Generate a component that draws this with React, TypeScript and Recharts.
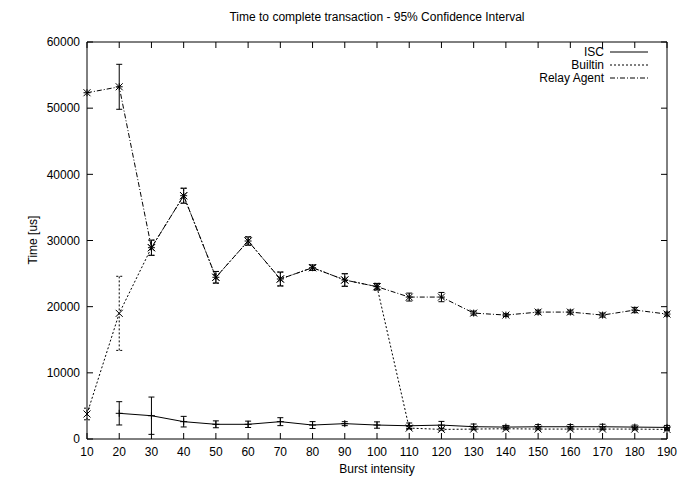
import React from 'react';
import { LineChart, Line, XAxis, YAxis, ErrorBar } from 'recharts';

// burst intensity steps
const bursts = [10, 20, 30, 40, 50, 60, 70, 80, 90, 100, 110, 120, 130, 140, 150, 160, 170, 180, 190];

// mean completion time [us] and 95% CI half-width per series
const iscMean = [null, 3880, 3520, 2620, 2220, 2220, 2620, 2110, 2320, 2110, 2000, 2100, 1860, 1800, 1850, 1850, 1850, 1800, 1750];
const iscErr = [null, 1760, 2820, 800, 520, 480, 600, 520, 300, 480, 420, 560, 400, 250, 330, 330, 380, 300, 300];

const builtinMean = [3780, 18990, 28910, 36770, 24440, 29920, 24180, 25890, 24030, 23020, 1650, 1450, 1500, 1550, 1500, 1500, 1500, 1500, 1450];
const builtinErr = [880, 5600, 1150, 1130, 880, 630, 1050, 400, 950, 500, 200, 200, 150, 150, 150, 150, 150, 150, 150];

const relayMean = [52330, 53230, 28910, 36770, 24440, 29920, 24180, 25890, 24030, 23020, 21450, 21450, 19030, 18730, 19180, 19180, 18730, 19490, 18880];
const relayErr = [0, 3400, 1150, 1130, 880, 630, 1050, 400, 950, 500, 600, 700, 300, 200, 300, 300, 300, 400, 300];

const xTicks = [10, 20, 30, 40, 50, 60, 70, 80, 90, 100, 110, 120, 130, 140, 150, 160, 170, 180, 190];
const yTicks = [0, 10000, 20000, 30000, 40000, 50000, 60000];

const data = bursts.map((b, i) => ({
  burst: b,
  isc: iscMean[i],
  iscErr: iscErr[i] ?? undefined,
  builtin: builtinMean[i],
  builtinErr: builtinErr[i],
  relay: relayMean[i],
  relayErr: relayErr[i],
}));

const FONT = '"Liberation Sans", Arial, Helvetica, sans-serif';

type Shape = 'plus' | 'cross' | 'star';

function markerPath(shape: Shape, cx: number, cy: number, r: number) {
  const plus = `M${cx - r},${cy}H${cx + r}M${cx},${cy - r}V${cy + r}`;
  const cross = `M${cx - r},${cy - r}L${cx + r},${cy + r}M${cx - r},${cy + r}L${cx + r},${cy - r}`;
  if (shape === 'plus') return plus;
  if (shape === 'cross') return cross;
  return plus + cross;
}

const makeDot = (shape: Shape) => (props: any) => {
  const { cx, cy, index, value } = props;
  if (cx == null || cy == null || value == null) return <g key={`d-${shape}-${index}`} />;
  return (
    <path
      key={`d-${shape}-${index}`}
      d={markerPath(shape, cx, cy, 3.5)}
      stroke="#000"
      strokeWidth={1}
      fill="none"
    />
  );
};

const SERIES = [
  { key: 'isc', name: 'ISC', dash: undefined as string | undefined },
  { key: 'builtin', name: 'Builtin', dash: '2 2' },
  { key: 'relay', name: 'Relay Agent', dash: '5 2 1 2' },
];

// gnuplot-style key in the top right corner of the plot
function KeyBox() {
  return (
    <svg
      width={180}
      height={42}
      style={{ position: 'absolute', left: 480, top: 44, overflow: 'visible' }}
    >
      {SERIES.map((s, i) => {
        const y = 8 + i * 13;
        return (
          <g key={s.key}>
            <text x={124} y={y + 4} textAnchor="end" fontSize={12} fontFamily={FONT} fill="#000">
              {s.name}
            </text>
            <line x1={130} x2={168} y1={y} y2={y} stroke="#000" strokeWidth={1} strokeDasharray={s.dash} />
          </g>
        );
      })}
    </svg>
  );
}

const tickStyle = { fontSize: 12, fontFamily: FONT, fill: '#000' };

export default function App() {
  return (
    <div style={{ position: 'absolute', left: 0, top: 0, width: 680, height: 483, background: '#fff' }}>
      <div
        style={{
          position: 'absolute', left: 87, width: 580, top: 10, textAlign: 'center',
          fontFamily: FONT, fontSize: 12, color: '#000',
        }}
      >
        Time to complete transaction - 95% Confidence Interval
      </div>
      <div
        style={{
          position: 'absolute', left: 87, width: 580, top: 462, textAlign: 'center',
          fontFamily: FONT, fontSize: 12, color: '#000',
        }}
      >
        Burst intensity
      </div>
      <div style={{ position: 'absolute', left: 33, top: 240, width: 0, height: 0 }}>
        <div
          style={{
            position: 'absolute', transform: 'translate(-50%, -50%) rotate(-90deg)', whiteSpace: 'nowrap',
            fontFamily: FONT, fontSize: 12, color: '#000',
          }}
        >
          Time [us]
        </div>
      </div>
      <LineChart
        width={680}
        height={483}
        data={data}
        margin={{ top: 32, right: 3, left: 27, bottom: 14 }}
      >
        <XAxis
          dataKey="burst"
          type="number"
          domain={[10, 190]}
          ticks={xTicks}
          interval={0}
          height={30}
          tickSize={-6}
          tickMargin={14}
          tick={tickStyle}
          axisLine={{ stroke: '#000', strokeWidth: 1 }}
          tickLine={{ stroke: '#000' }}
        />
        <XAxis
          xAxisId="top"
          orientation="top"
          dataKey="burst"
          type="number"
          domain={[10, 190]}
          allowDataOverflow
          ticks={xTicks}
          interval={0}
          height={10}
          tickSize={-6}
          tickFormatter={() => ''}
          axisLine={{ stroke: '#000', strokeWidth: 1 }}
          tickLine={{ stroke: '#000' }}
        />
        <YAxis
          type="number"
          domain={[0, 60000]}
          ticks={yTicks}
          interval={0}
          width={60}
          tickSize={-6}
          tickMargin={13}
          tick={tickStyle}
          axisLine={{ stroke: '#000', strokeWidth: 1 }}
          tickLine={{ stroke: '#000' }}
        />
        <YAxis
          yAxisId="right"
          orientation="right"
          type="number"
          domain={[0, 60000]}
          allowDataOverflow
          ticks={yTicks}
          interval={0}
          width={10}
          tickSize={-6}
          tickFormatter={() => ''}
          axisLine={{ stroke: '#000', strokeWidth: 1 }}
          tickLine={{ stroke: '#000' }}
        />
        <Line
          name="Relay Agent"
          dataKey="relay"
          stroke="#000"
          strokeWidth={1}
          strokeDasharray="5 2 1 2"
          dot={makeDot('star')}
          activeDot={false}
          isAnimationActive={false}
        >
          <ErrorBar dataKey="relayErr" width={3} stroke="#000" strokeWidth={1} direction="y" isAnimationActive={false} />
        </Line>
        <Line
          name="Builtin"
          dataKey="builtin"
          stroke="#000"
          strokeWidth={1}
          strokeDasharray="2 2"
          dot={makeDot('cross')}
          activeDot={false}
          isAnimationActive={false}
        >
          <ErrorBar dataKey="builtinErr" width={3} stroke="#000" strokeWidth={1} strokeDasharray="2 2" direction="y" isAnimationActive={false} />
        </Line>
        <Line
          name="ISC"
          dataKey="isc"
          stroke="#000"
          strokeWidth={1}
          dot={makeDot('plus')}
          activeDot={false}
          isAnimationActive={false}
        >
          <ErrorBar dataKey="iscErr" width={3} stroke="#000" strokeWidth={1} direction="y" isAnimationActive={false} />
        </Line>
      </LineChart>
      <KeyBox />
    </div>
  );
}
